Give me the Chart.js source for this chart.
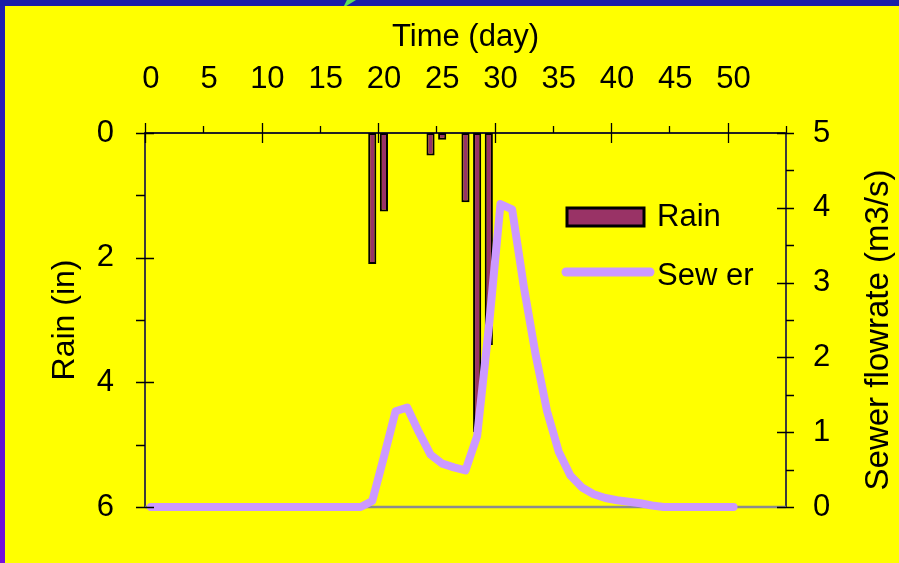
<!DOCTYPE html>
<html>
<head>
<meta charset="utf-8">
<script src="https://cdn.jsdelivr.net/npm/chart.js@4.4.1/dist/chart.umd.min.js"></script>
<style>
  html, body { margin: 0; padding: 0; }
  body { width: 899px; height: 563px; overflow: hidden; position: relative;
         background: linear-gradient(to bottom, #1c1fae, #7510dc); }
  #topband { position: absolute; left: 0; top: 0; width: 899px; height: 6px; background: #1a1fa8; }
  #tri { position: absolute; left: 343px; top: 0; width: 13px; height: 8px; background: #5de05a;
         clip-path: polygon(0 100%, 100% 0, 30% 0); }
  #wrap { position: absolute; left: 5px; top: 6px; width: 894px; height: 557px; background: #ffff00; }
</style>
</head>
<body>
<div id="topband"></div>
<div id="tri"></div>
<div id="wrap"><canvas id="myChart" width="894" height="557"></canvas></div>
<script>
// daily values
const days = [0, 1, 2, 3, 4, 5, 6, 7, 8, 9, 10, 11, 12, 13, 14, 15, 16, 17, 18, 19, 20,
  21, 22, 23, 24, 25, 26, 27, 28, 29, 30, 31, 32, 33, 34, 35, 36, 37, 38, 39, 40,
  41, 42, 43, 44, 45, 46, 47, 48, 49, 50];
const sewerFlow = [0, 0, 0, 0, 0, 0, 0, 0, 0, 0, 0, 0, 0, 0, 0, 0, 0, 0, 0, 0.08, 0.67,
  1.28, 1.33, 1.0, 0.7, 0.58, 0.53, 0.49, 0.95, 2.4, 4.05, 3.98, 2.95, 2.05, 1.28, 0.74, 0.42,
  0.26, 0.17, 0.12, 0.09, 0.07, 0.05, 0.02, 0, 0, 0, 0, 0, 0, 0];
const rainDays = [19, 20, 24, 25, 27, 28, 29];
const rainDepth = [2.1, 1.26, 0.36, 0.11, 1.11, 4.8, 3.4];
const timeTicks = [0, 5, 10, 15, 20, 25, 30, 35, 40, 45, 50];

const FONT = 'Liberation Sans, Arial, sans-serif';

// tick marks sit on category edges (Excel style), major ones cross the axis
const tickMarks = {
  id: 'tickMarks',
  beforeDatasetsDraw(chart) {
    const {ctx, chartArea: a} = chart;
    ctx.save();
    ctx.strokeStyle = '#8c8c8c';
    ctx.lineWidth = 2.5;
    ctx.beginPath();
    ctx.moveTo(a.left, a.bottom);
    ctx.lineTo(a.right, a.bottom);
    ctx.stroke();
    ctx.restore();
  },
  afterDraw(chart) {
    const {ctx, chartArea: a, scales} = chart;
    ctx.save();
    ctx.strokeStyle = '#000';
    ctx.lineWidth = 1.3;
    ctx.beginPath();
    for (let v = 0; v <= 55; v += 5) {
      const px = Math.round(scales.x.getPixelForValue(v - 0.5)) + 0.5;
      const major = v % 10 === 0;
      ctx.moveTo(px, a.top - (major ? 10 : 7));
      ctx.lineTo(px, major ? a.top + 10 : a.top);
    }
    for (let v = 0; v <= 6; v++) {
      const py = Math.round(scales.y.getPixelForValue(v)) + 0.5;
      const major = v % 2 === 0;
      ctx.moveTo(a.left - 9, py);
      ctx.lineTo(major ? a.left + 9 : a.left, py);
    }
    for (let v = 0; v <= 5; v += 0.5) {
      const py = Math.round(scales.y2.getPixelForValue(v)) + 0.5;
      const major = v % 1 === 0;
      ctx.moveTo(major ? a.right - 9 : a.right, py);
      ctx.lineTo(a.right + 8, py);
    }
    ctx.stroke();

    // right title reads bottom-to-top like the left one
    ctx.fillStyle = '#000';
    ctx.font = '33px ' + FONT;
    ctx.textAlign = 'center';
    ctx.textBaseline = 'middle';
    ctx.translate(874, (a.top + a.bottom) / 2 + 10);
    ctx.rotate(-Math.PI / 2);
    ctx.fillText('Sewer flowrate (m3/s)', 0, 0);
    ctx.restore();
  }
};

// legend drawn inside the plot area
const insideLegend = {
  id: 'insideLegend',
  afterDraw(chart) {
    const {ctx, chartArea: a} = chart;
    const rain = chart.data.datasets[1];
    const sewer = chart.data.datasets[0];
    ctx.save();
    ctx.fillStyle = rain.backgroundColor;
    ctx.fillRect(a.left + 422, a.top + 75, 77, 18);
    ctx.strokeStyle = '#000';
    ctx.lineWidth = 3;
    ctx.strokeRect(a.left + 422, a.top + 75, 77, 18);

    ctx.strokeStyle = sewer.borderColor;
    ctx.lineWidth = 9;
    ctx.lineCap = 'round';
    ctx.beginPath();
    ctx.moveTo(a.left + 421, a.top + 139);
    ctx.lineTo(a.left + 505, a.top + 139);
    ctx.stroke();

    ctx.fillStyle = '#000';
    ctx.font = '31px ' + FONT;
    ctx.textBaseline = 'middle';
    ctx.fillText('Rain', a.left + 512, a.top + 84);
    ctx.fillText('Sew er', a.left + 512, a.top + 143);
    ctx.restore();
  }
};

var ctx = document.getElementById('myChart');

var chart = new Chart(ctx, {
  type: 'bar',
  data: {
    datasets: [{
      type: 'line',
      label: 'Sewer',
      data: days.map((d, i) => ({x: d, y: sewerFlow[i]})),
      yAxisID: 'y2',
      borderColor: '#cc99ff',
      borderWidth: 8,
      borderCapStyle: 'round',
      borderJoinStyle: 'round',
      pointRadius: 0,
      tension: 0,
      fill: false,
      clip: 10
    }, {
      label: 'Rain',
      data: rainDays.map((d, i) => ({x: d, y: rainDepth[i]})),
      yAxisID: 'y',
      backgroundColor: '#993366',
      borderColor: '#000',
      borderWidth: 2,
      borderSkipped: false,
      barPercentage: 0.7,
      categoryPercentage: 1
    }]
  },
  options: {
    responsive: false,
    animation: false,
    layout: {padding: {left: 0, right: 0, top: 0, bottom: 56}},
    plugins: {legend: {display: false}, tooltip: {enabled: false}},
    scales: {
      x: {
        type: 'linear',
        position: 'top',
        min: -0.5,
        max: 54.5,
        offset: false,
        afterBuildTicks: axis => { axis.ticks = timeTicks.map(v => ({value: v})); },
        afterFit: s => { s.height = 127; },
        grid: {display: false, offset: false},
        border: {display: true, color: '#222', width: 2},
        ticks: {autoSkip: false, maxRotation: 0, padding: 27, color: '#000', font: {family: FONT, size: 31}},
        title: {display: true, text: 'Time (day)', color: '#000',
                font: {family: FONT, size: 31, lineHeight: 1}, padding: {top: 16, bottom: 0}}
      },
      y: {
        type: 'linear',
        position: 'left',
        reverse: true,
        min: 0,
        max: 6,
        afterFit: s => { s.width = 140; },
        grid: {display: false},
        border: {display: true, color: '#3c3c3c', width: 2},
        ticks: {stepSize: 2, padding: 23, color: '#000', font: {family: FONT, size: 31}},
        title: {display: true, text: 'Rain (in)', color: '#000',
                font: {family: FONT, size: 32, lineHeight: 1}, padding: {top: 44, bottom: 0}}
      },
      y2: {
        type: 'linear',
        position: 'right',
        min: 0,
        max: 5,
        afterFit: s => { s.width = 113; },
        grid: {display: false},
        border: {display: true, color: '#3c3c3c', width: 2},
        ticks: {stepSize: 1, padding: 19, color: '#000', font: {family: FONT, size: 31}}
      }
    }
  },
  plugins: [tickMarks, insideLegend]
});
</script>
</body>
</html>
